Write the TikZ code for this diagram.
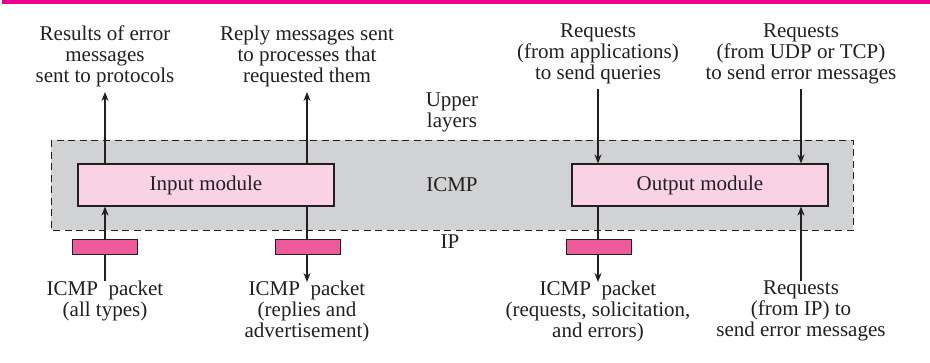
\documentclass[tikz,border=0pt]{standalone}
\usepackage{fontspec}
\setmainfont{Liberation Serif}
\usetikzlibrary{arrows.meta}
\definecolor{barpink}{HTML}{EC008C}
\definecolor{boxgray}{HTML}{D1D2D4}
\definecolor{modpink}{HTML}{F9D3E5}
\definecolor{pktpink}{HTML}{EE5A9C}
\definecolor{ink}{HTML}{231F20}
\tikzset{
  lbl/.style={align=center, inner sep=1pt, text=ink, font=\fontsize{21}{21}\selectfont},
  module/.style={draw=ink, line width=1.1pt, fill=modpink, minimum width=256pt, minimum height=42pt, inner sep=0pt, text=ink, font=\fontsize{21}{21}\selectfont},
  packet/.style={draw=ink, line width=1pt, fill=pktpink, minimum width=65pt, minimum height=15pt, inner sep=0pt},
  arr/.style={draw=ink, line width=1.3pt, -{Stealth[length=9pt,width=7pt]}},
}
\begin{document}
\begin{tikzpicture}[x=1pt,y=-1pt]
\useasboundingbox (0,0) rectangle (930,362);
\fill[barpink] (2,0) rectangle (930,4);
% ICMP layer box
\draw[ink, line width=1pt, fill=boxgray, dash pattern=on 7pt off 4.5pt] (51,140) rectangle (853,230);
\node[module] (in) at (206,185) {Input module};
\node[module] (out) at (700,185) {Output module};
\node[lbl] (upper) at (452,112) {Upper\\layers};
\node[lbl] (icmp) at (452,185) {ICMP};
\node[lbl] (ip) at (450,242) {IP};
% top labels
\node[lbl, anchor=south] (t1) at (105,88) {Results of error\\messages\\sent to protocols};
\node[lbl, anchor=south] (t2) at (307,88) {Reply messages sent\\to processes that\\requested them};
\node[lbl, anchor=south] (t3) at (598,85) {Requests\\(from applications)\\to send queries};
\node[lbl, anchor=south] (t4) at (801,85) {Requests\\(from UDP or TCP)\\to send error messages};
% bottom labels
\node[lbl, anchor=north] (b1) at (105,280) {ICMP\ \ packet\\(all types)};
\node[lbl, anchor=north] (b2) at (307,280) {ICMP\ \ packet\\(replies and\\advertisement)};
\node[lbl, anchor=north] (b3) at (598,280) {ICMP\ \ packet\\(requests, solicitation,\\and errors)};
\node[lbl, anchor=north] (b4) at (801,280) {Requests\\(from IP) to\\send error messages};
% upward arrows from input module
\draw[arr] (in.north -| t1) -- ([yshift=-4pt]t1.south);
\draw[arr] (in.north -| t2) -- ([yshift=-4pt]t2.south);
% downward arrows into output module
\draw[arr] ([yshift=-4pt]t3.south) -- (out.north -| t3);
\draw[arr] ([yshift=-4pt]t4.south) -- (out.north -| t4);
% bottom arrows
\draw[arr] ([yshift=-1pt]b1.north) -- (in.south -| b1);
\draw[arr] (in.south -| b2) -- ([yshift=-2pt]b2.north);
\draw[arr] (out.south -| b3) -- ([yshift=-2pt]b3.north);
\draw[arr] ([yshift=-1pt]b4.north) -- (out.south -| b4);
% packets
\node[packet] (p1) at (104.5,246.5) {};
\node[packet] (p2) at (307.5,246.5) {};
\node[packet] (p3) at (598.5,246.5) {};
\end{tikzpicture}
\end{document}
